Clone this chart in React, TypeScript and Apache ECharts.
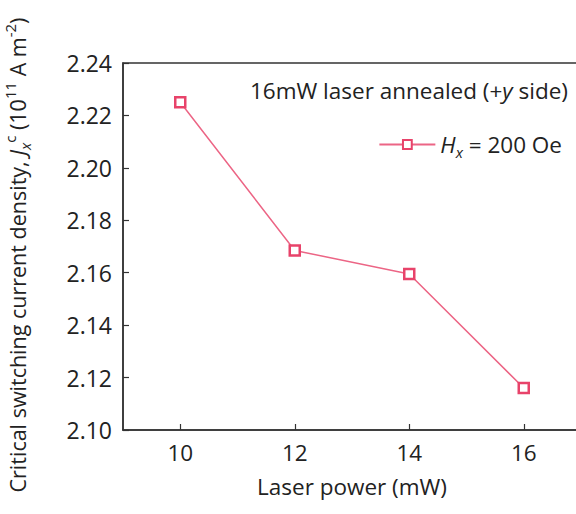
import React, { useEffect, useRef } from "react";
import * as echarts from "echarts";

const laserPower = [10, 12, 14, 16];
const currentDensity = [2.225, 2.1685, 2.1595, 2.116];
const xTicks = [10, 12, 14, 16];
const seriesName = "Hx = 200 Oe";

const FONT = "'Open Sans', 'Noto Sans', sans-serif";
const FS = 22.5;
const SUB = 15;
const YFS = 21.5;

export default function App() {
  const ref = useRef<HTMLDivElement>(null);
  useEffect(() => {
    if (!ref.current) return;
    const chart = echarts.init(ref.current, undefined, { renderer: "svg" });
    const axisColor = "#333";
    const textColor = "#222";
    chart.setOption({
      animation: false,
      backgroundColor: "#fff",
      textStyle: { fontFamily: FONT },
      grid: {
        left: 123,
        top: 63,
        right: -5,
        bottom: 84,
        show: true,
        borderColor: axisColor,
        borderWidth: 1.5,
        containLabel: false,
        outerBoundsMode: "none",
      },
      title: {
        text: "16mW laser annealed (+{i|y} side)",
        right: 3,
        top: 74,
        textStyle: {
          fontFamily: FONT,
          fontSize: FS,
          fontWeight: "normal",
          color: textColor,
          rich: {
            i: { fontFamily: FONT, fontSize: FS, fontStyle: "italic", color: textColor },
          },
        },
      },
      legend: {
        right: 9,
        top: 128,
        itemWidth: 56,
        itemHeight: 11,
        itemGap: 6,
        data: [seriesName],
        formatter: () => "{i|H}{sub|x} = 200 Oe",
        textStyle: {
          fontFamily: FONT,
          fontSize: FS,
          color: textColor,
          rich: {
            i: { fontFamily: FONT, fontSize: FS, fontStyle: "italic", color: textColor, lineHeight: 30 },
            sub: { fontFamily: FONT, fontSize: SUB, fontStyle: "italic", color: textColor, verticalAlign: "bottom", lineHeight: 30 },
          },
        },
      },
      xAxis: {
        type: "value",
        min: 9,
        max: 17,
        name: "Laser power (mW)",
        nameLocation: "middle",
        nameGap: 45,
        nameTextStyle: { fontFamily: FONT, fontSize: FS, color: textColor },
        axisLine: { show: true, onZero: false, lineStyle: { color: axisColor, width: 1.5 } },
        axisTick: { show: true, inside: true, length: 6, customValues: xTicks, lineStyle: { color: axisColor, width: 1.2 } },
        axisLabel: { customValues: xTicks, margin: 11, fontFamily: FONT, fontSize: FS, color: textColor },
        splitLine: { show: false },
      },
      yAxis: {
        type: "value",
        min: 2.1,
        max: 2.24,
        interval: 0.02,
        name:
          "Critical switching current density, {i|J}{sub|x}{sup|c} ({r|10}{sup|11} A m{sup|-2})",
        nameLocation: "middle",
        nameGap: 91,
        nameRotate: 90,
        nameTextStyle: {
          fontFamily: FONT,
          fontSize: YFS,
          color: textColor,
          lineHeight: 30,
          padding: [0, 17, 0, 0],
          rich: {
            r: { fontFamily: FONT, fontSize: YFS, color: textColor, lineHeight: 30 },
            i: { fontFamily: FONT, fontSize: YFS, fontStyle: "italic", color: textColor, lineHeight: 30 },
            sub: { fontFamily: FONT, fontSize: SUB, fontStyle: "italic", color: textColor, verticalAlign: "bottom", lineHeight: 30 },
            sup: { fontFamily: FONT, fontSize: SUB, color: textColor, verticalAlign: "top", lineHeight: 30 },
          },
        },
        axisLine: { show: true, onZero: false, lineStyle: { color: axisColor, width: 1.5 } },
        axisTick: { show: true, inside: true, length: 6, lineStyle: { color: axisColor, width: 1.2 } },
        axisLabel: {
          margin: 11,
          fontFamily: FONT,
          fontSize: 23,
          color: textColor,
          formatter: (v: number) => v.toFixed(2),
        },
        splitLine: { show: false },
      },
      series: [
        {
          name: seriesName,
          type: "line",
          data: laserPower.map((x, i) => [x, currentDensity[i]]),
          symbol: "rect",
          symbolSize: 10,
          lineStyle: { color: "#ec6585", width: 1.5 },
          itemStyle: { color: "#fff", borderColor: "#e8436a", borderWidth: 2.5 },
        },
      ],
    });
    return () => chart.dispose();
  }, []);
  return (
    <div
      ref={ref}
      style={{ position: "fixed", left: 0, top: 0, width: 576, height: 514 }}
    />
  );
}
